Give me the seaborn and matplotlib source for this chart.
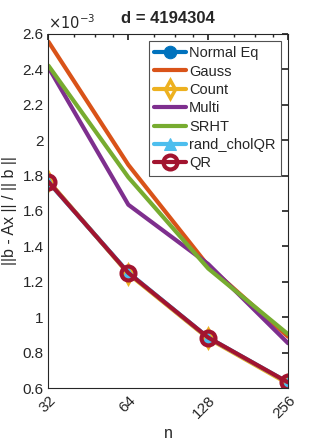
import matplotlib
matplotlib.use("Agg")
import matplotlib.pyplot as plt
import matplotlib.ticker as mticker
import seaborn as sns
import pandas as pd

n_values = [32, 64, 128, 256]
scale = 1e-3
normal_eq = [1.765e-3, 1.250e-3, 0.884e-3, 0.630e-3]
gauss = [2.555e-3, 1.860e-3, 1.290e-3, 0.890e-3]
count = [1.770e-3, 1.245e-3, 0.880e-3, 0.625e-3]
multi = [2.410e-3, 1.635e-3, 1.300e-3, 0.853e-3]
srht = [2.420e-3, 1.790e-3, 1.275e-3, 0.904e-3]
rand_cholqr = [1.762e-3, 1.252e-3, 0.885e-3, 0.632e-3]
qr = [1.764e-3, 1.250e-3, 0.885e-3, 0.632e-3]

series = {
    "Normal Eq": normal_eq,
    "Gauss": gauss,
    "Count": count,
    "Multi": multi,
    "SRHT": srht,
    "rand_cholQR": rand_cholqr,
    "QR": qr,
}

colors = {
    "Normal Eq": (0, 0.447, 0.741),
    "Gauss": (0.85, 0.325, 0.098),
    "Count": (0.929, 0.694, 0.125),
    "Multi": (0.494, 0.184, 0.556),
    "SRHT": (0.466, 0.674, 0.188),
    "rand_cholQR": (0.301, 0.745, 0.933),
    "QR": (0.635, 0.078, 0.184),
}
markers = {"Normal Eq": "o", "Count": "d", "rand_cholQR": "^", "QR": "o"}

rows = []
for name, vals in series.items():
    for n, v in zip(n_values, vals):
        rows.append({"method": name, "n": n, "res": v / scale})
df = pd.DataFrame(rows)

sns.set_theme(style="white")
plt.rcParams["font.family"] = ["Liberation Sans", "DejaVu Sans"]

fig = plt.figure(figsize=(3.19, 4.45), dpi=100)
ax = fig.add_axes([0.152, 0.128, 0.751, 0.796])

for name in series:
    sub = df[df.method == name]
    m = markers.get(name)
    kw = dict(marker=m, markersize=9) if m else {}
    if name == "QR":
        kw.update(markerfacecolor="none", markeredgewidth=3, markeredgecolor=colors[name], markersize=10)
    elif m:
        kw.update(markeredgecolor=colors[name], markerfacecolor=colors[name])
    if name == "Count":
        kw.update(markerfacecolor="none", markeredgewidth=2.5, markersize=9)
    sns.lineplot(data=sub, x="n", y="res", ax=ax, color=colors[name], linewidth=3,
                 label=name, **kw)

ax.set_xscale("log", base=2)
ax.set_xlim(32, 256)
ax.set_ylim(0.6, 2.6)
ax.set_xticks(n_values)
ax.xaxis.set_major_formatter(mticker.FuncFormatter(lambda v, _: f"{v:g}"))
ax.xaxis.set_minor_locator(mticker.FixedLocator([40, 48, 56, 80, 96, 112, 160, 192, 224]))
ax.xaxis.set_minor_formatter(mticker.NullFormatter())
ax.set_yticks([0.6 + 0.2 * i for i in range(11)])
ax.yaxis.set_major_formatter(mticker.FuncFormatter(lambda v, _: f"{v:g}"))
ax.tick_params(axis="both", which="both", direction="in", top=True, right=True,
               labelsize=11, colors="#262626", length=4)
ax.tick_params(axis="both", which="minor", length=2)
plt.setp(ax.get_xticklabels(), rotation=45, ha="right", rotation_mode="anchor")
for s in ax.spines.values():
    s.set_color("#262626")
    s.set_linewidth(0.8)

ax.set_xlabel("n", fontsize=11.5, color="#262626")
ax.set_ylabel("||b - Ax || / || b ||", fontsize=11.5, color="#262626")
ax.set_title("d = 4194304", fontsize=12, fontweight="bold", pad=8)
ax.text(0.0, 1.005, r"$\times10^{-3}$", transform=ax.transAxes, fontsize=10.5,
        va="bottom", ha="left", color="#262626")

leg = ax.legend(loc="upper right", fontsize=10.5, frameon=True, fancybox=False,
                handlelength=2.2, borderpad=0.35, labelspacing=0.3, handletextpad=0.2,
                borderaxespad=0.5)
leg.get_frame().set_edgecolor("#262626")
leg.get_frame().set_linewidth(0.8)

fig.savefig("out.png", dpi=100)
